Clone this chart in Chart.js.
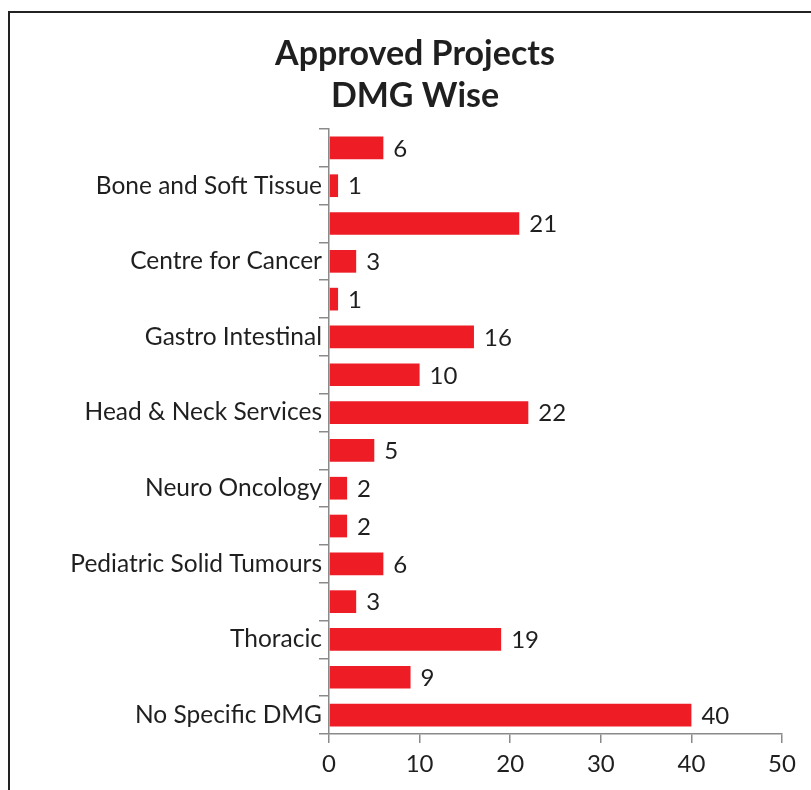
<!DOCTYPE html>
<html>
<head>
<meta charset="utf-8">
<script src="https://cdn.jsdelivr.net/npm/chart.js@4"></script>
<style>
  html, body { margin: 0; padding: 0; background: #fff; }
</style>
</head>
<body>
<canvas id="chart" width="811" height="790"></canvas>
<script>
// categories (only every other one is labelled in the picture)
const categories = [
    'Adult Hematolymphoid',
    'Bone and Soft Tissue',
    'Breast',
    'Centre for Cancer',
    'Critical Care',
    'Gastro Intestinal',
    'Gynaecology',
    'Head & Neck Services',
    'Hepato Pancreato Biliary',
    'Neuro Oncology',
    'Palliative Care',
    'Pediatric Solid Tumours',
    'Radiation Oncology',
    'Thoracic',
    'Uro-Oncology',
    'No Specific DMG'
];
const projects = [6, 1, 21, 3, 1, 16, 10, 22, 5, 2, 2, 6, 3, 19, 9, 40];
const xTicks = [0, 10, 20, 30, 40, 50];

const FONT = 'Lato';
const TEXT = '#1f1f1f';
const AXIS = '#8a8a8a';

// frame lines round the picture (top and left only)
const framePlugin = {
    id: 'frame',
    afterDraw(chart) {
        const ctx = chart.ctx;
        ctx.save();
        ctx.strokeStyle = '#222';
        ctx.lineWidth = 2;
        ctx.beginPath();
        ctx.moveTo(9, 790);
        ctx.lineTo(9, 12);
        ctx.lineTo(811, 12);
        ctx.stroke();
        ctx.restore();
    }
};

// value labels at the end of each bar
const valueLabels = {
    id: 'valueLabels',
    afterDatasetsDraw(chart) {
        const ctx = chart.ctx;
        const meta = chart.getDatasetMeta(0);
        ctx.save();
        ctx.font = '24px ' + FONT;
        ctx.fillStyle = TEXT;
        ctx.textAlign = 'left';
        ctx.textBaseline = 'middle';
        meta.data.forEach((bar, i) => {
            ctx.fillText(projects[i], bar.x + 10, bar.y + 1);
        });
        ctx.restore();
    }
};

new Chart(document.getElementById('chart').getContext('2d'), {
    type: 'bar',
    data: {
        labels: categories,
        datasets: [{
            data: projects,
            backgroundColor: '#ee1d25',
            borderWidth: 0,
            barPercentage: 0.6,
            categoryPercentage: 1.0
        }]
    },
    options: {
        indexAxis: 'y',
        responsive: false,
        animation: false,
        // left padding is wide so the title centres where it does in the picture
        layout: { padding: { left: 48, right: 29, top: 0, bottom: 0 } },
        plugins: {
            legend: { display: false },
            tooltip: { enabled: false },
            title: {
                display: true,
                text: ['Approved Projects', 'DMG Wise'],
                color: TEXT,
                font: { family: FONT, size: 34, weight: 'bold', lineHeight: 1.235 },
                padding: { top: 33, bottom: 12 }
            }
        },
        scales: {
            x: {
                min: 0,
                max: 50,
                afterFit(scale) { scale.height = 56; },
                afterBuildTicks(scale) { scale.ticks = xTicks.map(v => ({ value: v })); },
                grid: { drawOnChartArea: false, drawTicks: true, tickLength: 9, color: AXIS, lineWidth: 1.5 },
                border: { color: AXIS, width: 1.5 },
                ticks: { color: TEXT, font: { family: FONT, size: 24 }, padding: 7 }
            },
            y: {
                afterFit(scale) { scale.width = 281; },
                grid: { drawOnChartArea: false, drawTicks: true, tickLength: 10, color: AXIS, lineWidth: 1.5, offset: true },
                border: { color: AXIS, width: 1.5 },
                ticks: {
                    autoSkip: false,
                    color: TEXT,
                    font: { family: FONT, size: 24.5 },
                    padding: -3,
                    callback: (v, i) => (i % 2 === 1 ? categories[i] : '')
                }
            }
        }
    },
    plugins: [framePlugin, valueLabels]
});
</script>
</body>
</html>
